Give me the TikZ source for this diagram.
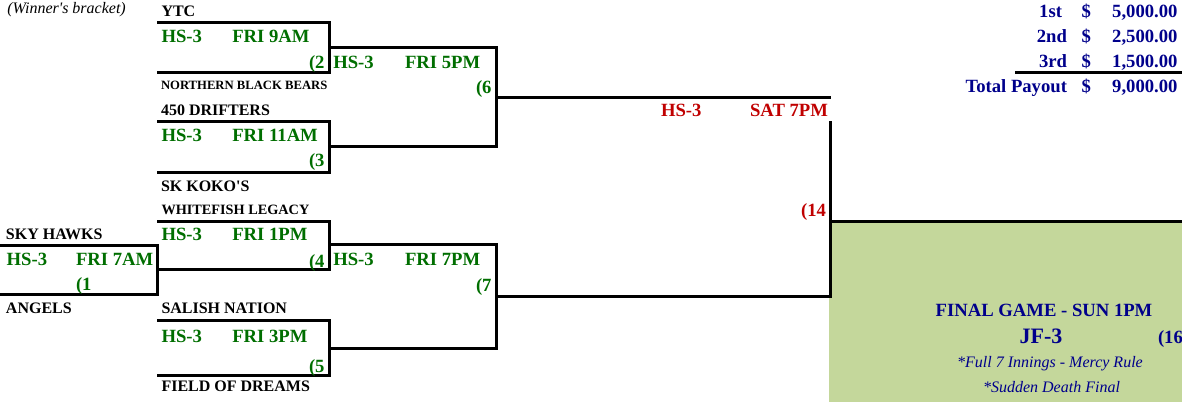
\documentclass[tikz,border=0pt]{standalone}
\usepackage{fontspec}
\setmainfont{Liberation Serif}
\definecolor{gamegreen}{RGB}{0,110,0}
\definecolor{semired}{RGB}{192,0,0}
\definecolor{payblue}{RGB}{0,0,139}
\definecolor{finalfill}{RGB}{196,215,155}
\tikzset{
  lbl/.style={inner sep=0pt, outer sep=0pt},
  team/.style={lbl, anchor=base west, font=\fontsize{12}{14}\selectfont\bfseries},
  gtxt/.style={lbl, anchor=base west, text=gamegreen, font=\fontsize{14}{16}\selectfont\bfseries},
  rtxt/.style={lbl, text=semired, font=\fontsize{14}{16}\selectfont\bfseries},
  btxt/.style={lbl, text=payblue, font=\fontsize{14}{16}\selectfont\bfseries},
  itxt/.style={lbl, anchor=base, text=payblue, font=\fontsize{12}{14}\selectfont\itshape},
  brk/.style={line width=2.25pt, line join=miter},
}
\begin{document}
\begin{tikzpicture}[x=0.75pt,y=-0.75pt]
\useasboundingbox (0,0) rectangle (1182,402);
% final box
\fill[finalfill] (829,222) rectangle (1182,402);
% bracket lines
\draw[brk] (157,22.5) -- (329.5,22.5) -- (329.5,72.5) -- (157,72.5);
\draw[brk] (157,121.5) -- (329.5,121.5) -- (329.5,172.5) -- (157,172.5);
\draw[brk] (329.5,48) -- (496,48) -- (496,146.5) -- (329.5,146.5);
\draw[brk] (496,97.5) -- (831,97.5);
\draw[brk] (157,221.7) -- (329.5,221.7) -- (329.5,270) -- (157,270);
\draw[brk] (0,245.5) -- (157,245.5) -- (157,295) -- (0,295);
\draw[brk] (157,321) -- (329.5,321) -- (329.5,376) -- (157,376);
\draw[brk] (329.5,245) -- (496,245) -- (496,349) -- (329.5,349);
\draw[brk] (496,297) -- (830,297) -- (830,121.5);
\draw[brk] (829,222) -- (1182,222);
\draw[brk] (1015,73) -- (1182,73);
% header
\node[lbl, anchor=base west, font=\fontsize{12}{14}\selectfont\itshape] (hdr) at (7.3,14) {(Winner\textquotesingle s bracket)};
% game 2
\node[team] (t1) at (161.5,17) {YTC};
\node[gtxt] (g2a) at (161.5,42.7) {HS-3};
\node[gtxt] (g2b) at (232.3,42.7) {FRI 9AM};
\node[gtxt] (g2n) at (309,68.3) {(2};
\node[team, font=\fontsize{9.5}{11}\selectfont\bfseries] (t2) at (161,90) {NORTHERN BLACK BEARS};
% game 3
\node[team] (t3) at (161,116) {450 DRIFTERS};
\node[gtxt] (g3a) at (161.5,141.7) {HS-3};
\node[gtxt] (g3b) at (232.3,141.7) {FRI 11AM};
\node[gtxt] (g3n) at (309,166.7) {(3};
\node[team] (t4) at (161,191.7) {SK KOKO\textquotesingle S};
% game 6
\node[gtxt] (g6a) at (333.3,68.3) {HS-3};
\node[gtxt] (g6b) at (405,68.3) {FRI 5PM};
\node[gtxt] (g6n) at (476,94) {(6};
% game 4
\node[team, font=\fontsize{10.7}{12}\selectfont\bfseries] (t5) at (161.5,215) {WHITEFISH LEGACY};
\node[gtxt] (g4a) at (161.5,240.7) {HS-3};
\node[gtxt] (g4b) at (232.3,240.7) {FRI 1PM};
\node[gtxt] (g4n) at (309,268) {(4};
% game 1
\node[team] (t6) at (6,240) {SKY HAWKS};
\node[gtxt] (g1a) at (6.7,266) {HS-3};
\node[gtxt] (g1b) at (76,266) {FRI 7AM};
\node[gtxt] (g1n) at (76,291) {(1};
\node[team] (t7) at (6,313.3) {ANGELS};
% game 5
\node[team] (t8) at (161.5,314) {SALISH NATION};
\node[gtxt] (g5a) at (161.5,342.7) {HS-3};
\node[gtxt] (g5b) at (232.3,342.7) {FRI 3PM};
\node[gtxt] (g5n) at (309,372.7) {(5};
\node[team] (t9) at (161.5,391.7) {FIELD OF DREAMS};
% game 7
\node[gtxt] (g7a) at (333.3,266) {HS-3};
\node[gtxt] (g7b) at (405,266) {FRI 7PM};
\node[gtxt] (g7n) at (476,291.7) {(7};
% semifinal
\node[rtxt, anchor=base west] (s1) at (661,116.7) {HS-3};
\node[rtxt, anchor=base east] (s2) at (828,116.7) {SAT 7PM};
\node[rtxt, anchor=base east] (s3) at (826,217) {(14};
% payouts
\node[btxt, anchor=base east] (p1l) at (1062,17.3) {1st};
\node[btxt, anchor=base east] (p2l) at (1067,42.7) {2nd};
\node[btxt, anchor=base east] (p3l) at (1067,67.7) {3rd};
\node[btxt, anchor=base east] (p4l) at (1067,92.7) {Total Payout};
\node[btxt, anchor=base west] (p1d) at (1081.5,17.3) {\$};
\node[btxt, anchor=base west] (p2d) at (1081.5,42.7) {\$};
\node[btxt, anchor=base west] (p3d) at (1081.5,67.7) {\$};
\node[btxt, anchor=base west] (p4d) at (1081.5,92.7) {\$};
\node[btxt, anchor=base east] (p1v) at (1177.5,17.3) {5,000.00};
\node[btxt, anchor=base east] (p2v) at (1177.5,42.7) {2,500.00};
\node[btxt, anchor=base east] (p3v) at (1177.5,67.7) {1,500.00};
\node[btxt, anchor=base east] (p4v) at (1177.5,92.7) {9,000.00};
% final
\node[btxt, anchor=base] (f1) at (1044,316.7) {FINAL GAME - SUN 1PM};
\node[btxt, anchor=base, font=\fontsize{16.5}{19}\selectfont\bfseries] (f2) at (1041,344) {JF-3};
\node[btxt, anchor=base west] (f3) at (1158,344) {(16};
\node[itxt] (f4) at (1050,367.3) {*Full 7 Innings - Mercy Rule};
\node[itxt] (f5) at (1051.5,392.3) {*Sudden Death Final};
\end{tikzpicture}
\end{document}
